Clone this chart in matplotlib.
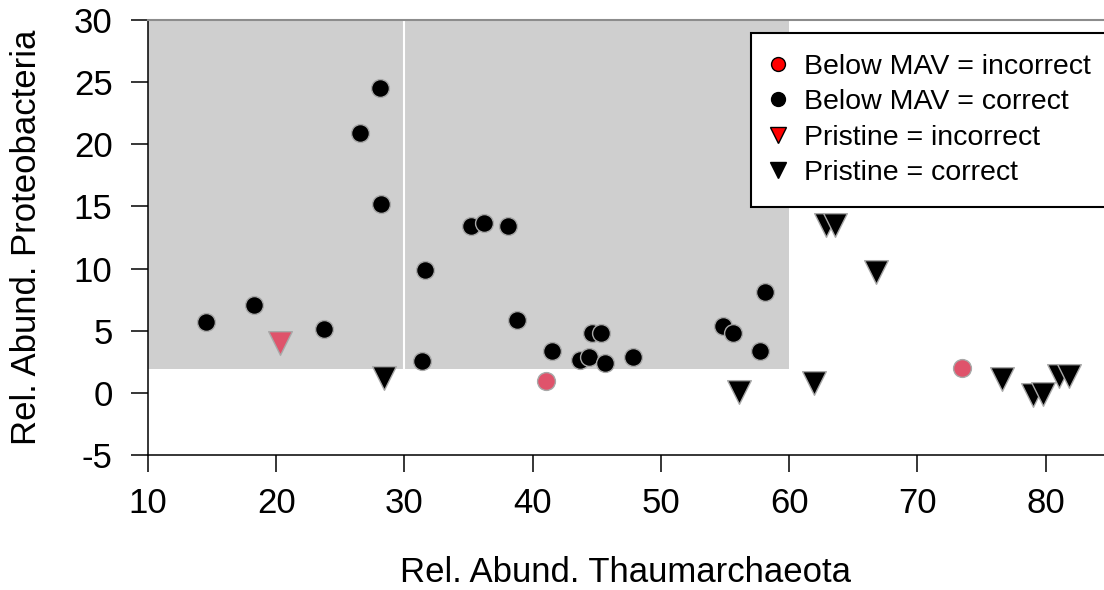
import matplotlib
matplotlib.use("Agg")
import matplotlib.pyplot as plt
from matplotlib.lines import Line2D
from matplotlib.patches import Rectangle

plt.rcParams['font.family'] = ['Liberation Sans', 'DejaVu Sans']
plt.rcParams['axes.unicode_minus'] = False

# Below MAV = correct (black circles)
mav_ok_x = [14.5, 18.3, 23.7, 26.5, 28.1, 28.2, 31.6, 31.4, 35.2, 36.2, 38.1, 38.8,
            41.5, 43.7, 44.4, 45.6, 44.6, 45.3, 47.8, 54.8, 55.6, 58.1, 57.7]
mav_ok_y = [5.7, 7.1, 5.1, 20.9, 24.5, 15.2, 9.9, 2.6, 13.4, 13.7, 13.4, 5.9,
            3.4, 2.65, 2.9, 2.4, 4.8, 4.8, 2.9, 5.4, 4.8, 8.1, 3.4]
# Below MAV = incorrect (red circles)
mav_bad_x = [41.0, 73.5]
mav_bad_y = [0.96, 2.0]
# Pristine = incorrect (red triangle)
pri_bad_x = [20.3]
pri_bad_y = [4.0]
# Pristine = correct (black triangles)
pri_ok_x = [28.4, 56.1, 61.9, 62.9, 63.6, 66.8, 76.6, 79.0, 79.8, 81.0, 81.8]
pri_ok_y = [1.2, 0.1, 0.8, 13.5, 13.5, 9.75, 1.1, -0.17, -0.1, 1.36, 1.36]

# shaded region (Thaumarchaeota < 60, Proteobacteria > 1.9)
box_x = [10, 60]
box_y = [1.9, 30]
split_x = 30

red_pt = "#DF536B"
edge = "#A8A8A8"

fig = plt.figure(figsize=(11.04, 5.90), dpi=100)
ax = fig.add_axes([148/1104, 135/590, 956/1104, 435/590])

ax.add_patch(Rectangle((box_x[0], box_y[0]), box_x[1]-box_x[0], box_y[1]-box_y[0],
                       facecolor="#CFCFCF", edgecolor="none", zorder=0))
ax.plot([split_x, split_x], box_y, color="white", lw=1.5, zorder=1)

ax.scatter(mav_ok_x, mav_ok_y, s=165, marker="o", c="black", edgecolors=edge, linewidths=1, zorder=3)
ax.scatter(mav_bad_x, mav_bad_y, s=165, marker="o", c=red_pt, edgecolors=edge, linewidths=1, zorder=3)
ax.scatter(pri_ok_x, pri_ok_y, s=290, marker="v", c="black", edgecolors=edge, linewidths=1, zorder=3)
ax.scatter(pri_bad_x, pri_bad_y, s=290, marker="v", c=red_pt, edgecolors=edge, linewidths=1, zorder=3)

ax.set_xlim(10, 10 + (1104 - 148.3) / 12.82)
ax.set_ylim(-5, 30)
ax.set_xticks(range(10, 81, 10))
ax.set_yticks(range(-5, 31, 5))
ax.tick_params(direction="out", length=12.5, width=1.1, labelsize=25)
ax.tick_params(axis="x", pad=10.5)
ax.tick_params(axis="y", pad=13)

ax.spines["right"].set_visible(False)
ax.spines["top"].set_color("#8C8C8C")
ax.spines["top"].set_linewidth(1.5)
ax.spines["left"].set_linewidth(1.1)
ax.spines["bottom"].set_linewidth(1.1)

ax.set_xlabel("Rel. Abund. Thaumarchaeota", fontsize=25, va="center")
ax.xaxis.set_label_coords(0.5, -0.271)
ax.set_ylabel("Rel. Abund. Proteobacteria", fontsize=25, va="center")
ax.yaxis.set_label_coords(-0.1266, 0.5)

handles = [
    Line2D([], [], ls="none", marker="o", ms=10, mfc="red", mec="black", label="Below MAV = incorrect"),
    Line2D([], [], ls="none", marker="o", ms=10, mfc="black", mec="black", label="Below MAV = correct"),
    Line2D([], [], ls="none", marker="v", ms=11.5, mfc="red", mec="black", label="Pristine = incorrect"),
    Line2D([], [], ls="none", marker="v", ms=11.5, mfc="black", mec="black", label="Pristine = correct"),
]
leg = fig.legend(handles=handles, loc="upper left", bbox_to_anchor=(751/1104, 1 - 33/590),
                 fontsize=20.5, frameon=True, fancybox=False, framealpha=1, edgecolor="black",
                 borderpad=0.75, labelspacing=0.32, handlelength=0.4, handletextpad=0.7,
                 borderaxespad=0)
leg.get_frame().set_linewidth(1.5)

fig.savefig("out.png", dpi=100)
